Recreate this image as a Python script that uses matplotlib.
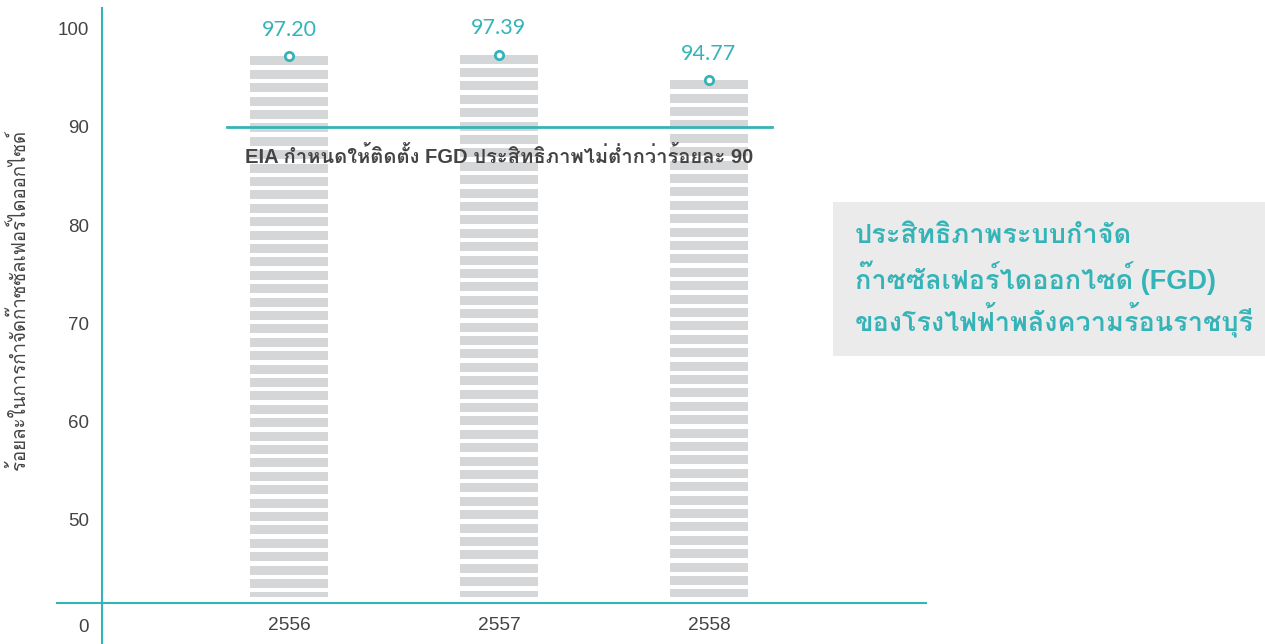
import matplotlib
matplotlib.use("Agg")
import matplotlib.pyplot as plt
from matplotlib import font_manager, ft2font
from matplotlib.patches import Rectangle

# find a font that can draw Thai
thai_font = None
for f in font_manager.fontManager.ttflist:
    try:
        if 0x0E01 in ft2font.FT2Font(f.fname).get_charmap():
            thai_font = f.name
            break
    except Exception:
        pass
fams = ["Liberation Sans"] + ([thai_font] if thai_font else []) + ["DejaVu Sans"]
plt.rcParams["font.family"] = fams

years = ["2556", "2557", "2558"]
values = [97.20, 97.39, 94.77]
value_labels = ["97.20", "97.39", "94.77"]
ytick_vals = [50, 60, 70, 80, 90, 100]
eia_limit = 90
eia_text = "EIA กำหนดให้ติดตั้ง FGD ประสิทธิภาพไม่ต่ำกว่าร้อยละ 90"
title_lines = ["ประสิทธิภาพระบบกำจัด", "ก๊าซซัลเฟอร์ไดออกไซด์ (FGD)", "ของโรงไฟฟ้าพลังความร้อนราชบุรี"]
ylabel = "ร้อยละในการกำจัดก๊าซซัลเฟอร์ไดออกไซด์"

teal = "#35b4b8"
bar_gray = "#d5d6d8"
text_gray = "#444444"

fig = plt.figure(figsize=(12.65, 6.44), dpi=100)
ax = fig.add_axes([102 / 1265, 0, (926 - 102) / 1265, (644 - 8) / 644])

px = 9.8  # pixels per unit on the y axis
ymax = 100 + (29 - 8) / px
ymin = 100 - (644 - 29) / px
base = 100 - (603 - 29) / px
zero_pos = 100 - (625 - 29) / px
ax.set_ylim(ymin, ymax)
ax.set_xlim((102 - 289) / 210, (926 - 289) / 210)

# striped bars
bar_w = 78 / 210
stripe_h = 9 / px
pitch = 13.4 / px
bar_bottom = base + 6 / px
for i, v in enumerate(values):
    tops = []
    t = v
    while t > bar_bottom:
        tops.append(t)
        t -= pitch
    bottoms = [max(tt - stripe_h, bar_bottom) for tt in tops]
    heights = [tt - b for tt, b in zip(tops, bottoms)]
    ax.bar([i] * len(tops), heights, bottom=bottoms, width=bar_w, color=bar_gray, zorder=1)

# markers and value labels
ax.plot(range(len(values)), values, "o", ls="none", ms=6, mfc="white", mec=teal, mew=2, zorder=4)
for i, (v, lab) in enumerate(zip(values, value_labels)):
    ax.annotate(lab, (i, v), xytext=(0, 19), textcoords="offset points", ha="center", va="center",
                fontsize=15.5, color=teal, family=["Lato"] + fams)

# EIA reference line
ax.plot([-0.295, 2.3], [eia_limit, eia_limit], color=teal, lw=2, zorder=3)
ax.text(1, eia_limit - 3.0, eia_text, ha="center", va="center", fontsize=14.5,
        fontweight="bold", color=text_gray, zorder=5)

# axes
ax.plot([(57 - 289) / 210, (926 - 289) / 210], [base, base], color=teal, lw=1.5, clip_on=False, zorder=3)
for s in ["top", "right", "bottom"]:
    ax.spines[s].set_visible(False)
ax.spines["left"].set_color(teal)
ax.spines["left"].set_linewidth(1.5)
ax.set_yticks([zero_pos] + ytick_vals)
ax.set_yticklabels(["0"] + [str(t) for t in ytick_vals])
ax.tick_params(axis="y", length=0, pad=9.5, labelsize=13.5, labelcolor=text_gray)
ax.set_xticks([])
for i, y in enumerate(years):
    ax.text(i, zero_pos, y, ha="center", va="center", fontsize=13.8, color=text_gray)

fig.text(18 / 1265, 1 - 300 / 644, ylabel, rotation=90, ha="center", va="center",
         fontsize=13.4, color=text_gray)

# title box
fig.patches.append(Rectangle((833 / 1265, (644 - 356) / 644), 432 / 1265, 154 / 644,
                             transform=fig.transFigure, facecolor="#ebebeb", edgecolor="none"))
for k, line in enumerate(title_lines):
    fig.text(855 / 1265, 1 - (236 + 42 * k) / 644, line, ha="left", va="center",
             fontsize=19.5, fontweight="bold", color=teal)

fig.savefig("out.png", dpi=100)
